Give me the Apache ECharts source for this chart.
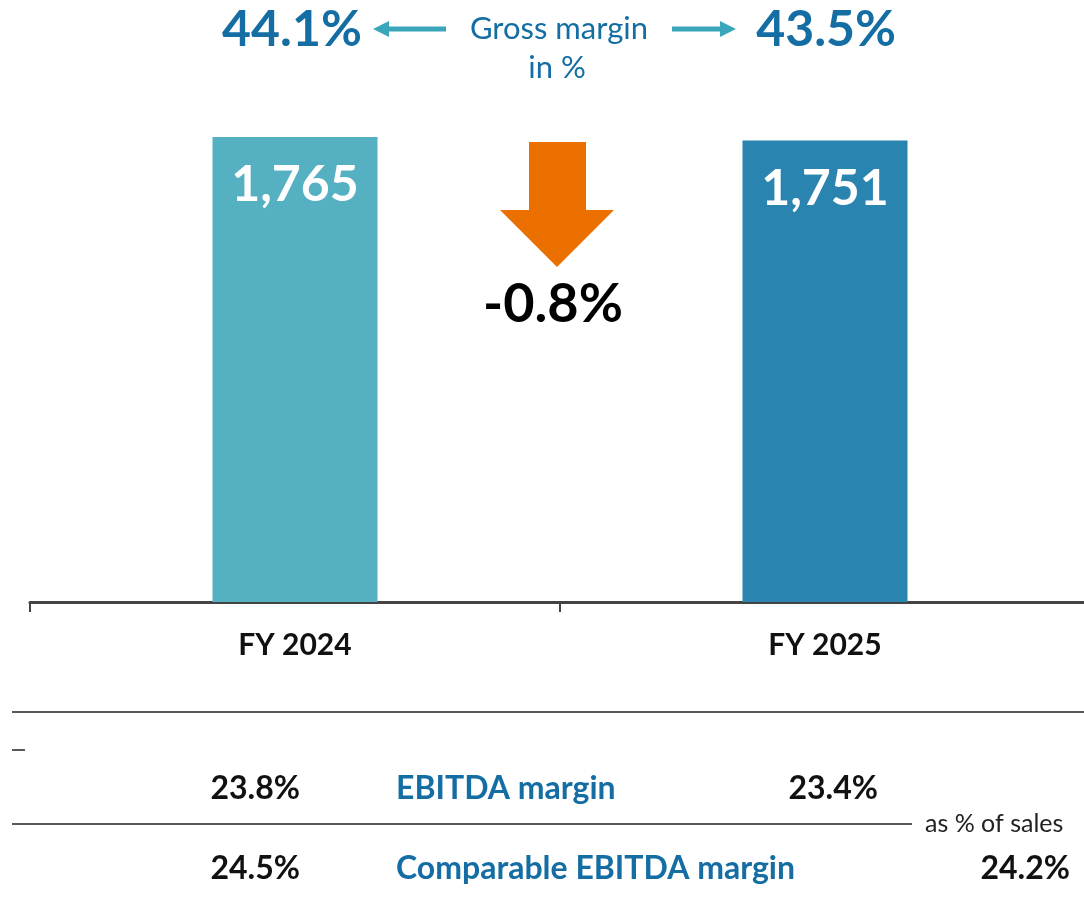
<!DOCTYPE html>
<html>
<head>
<meta charset="utf-8">
<script src="https://cdn.jsdelivr.net/npm/echarts@6/dist/echarts.min.js"></script>
<style>
  html, body { margin: 0; padding: 0; background: #fff; overflow: hidden; }
  #chart { width: 1090px; height: 904px; }
</style>
</head>
<body>
<div id="chart"></div>
<script>
const years = ['FY 2024', 'FY 2025']
const sales = [1765, 1751]
const barColors = ['#55b0c2', '#2a84b0']
const grossMargin = ['44.1%', '43.5%']
const change = '-0.8%'
const ebitdaMargin = ['23.8%', '23.4%']
const compEbitdaMargin = ['24.5%', '24.2%']

const font = 'Lato'
const blue = '#146ea3'
const teal = '#3aa6b9'

const chart = echarts.init(document.getElementById('chart'))

function txt(x, y, text, size, color, weight, align) {
  return {
    type: 'text', x: x, y: y,
    style: {
      text: text, fill: color, font: (weight || 'normal') + ' ' + size + 'px ' + font,
      align: align || 'left', verticalAlign: 'middle'
    }
  }
}

function hline(x1, x2, y) {
  return {
    type: 'line',
    shape: { x1: x1, y1: y, x2: x2, y2: y },
    style: { stroke: '#222', lineWidth: 1.5 }
  }
}

const option = {
  animation: false,
  grid: { left: 30, right: 0, top: 75, bottom: 302 },
  xAxis: {
    type: 'category',
    data: years,
    axisLine: { lineStyle: { color: '#444', width: 3 } },
    axisTick: { show: true, length: 10, lineStyle: { color: '#444', width: 2 } },
    axisLabel: { color: '#111', fontFamily: font, fontWeight: 'bold', fontSize: 30, margin: 28 }
  },
  yAxis: {
    type: 'value', min: 0, max: 2000, show: false, splitLine: { show: false }
  },
  series: [{
    type: 'bar',
    barWidth: 165,
    data: sales.map((v, i) => ({ value: v, itemStyle: { color: barColors[i] } })),
    label: {
      show: true, position: 'insideTop', distance: 23,
      color: '#fff', fontFamily: font, fontWeight: 'bold', fontSize: 50,
      formatter: p => p.value.toLocaleString('en-US')
    }
  }],
  graphic: [
    // gross margin header
    txt(222, 30, grossMargin[0], 50, blue, 'bold'),
    txt(896, 30, grossMargin[1], 50, blue, 'bold', 'right'),
    txt(559, 29, 'Gross margin', 31, blue, 'normal', 'center'),
    txt(557, 68, 'in %', 31, blue, 'normal', 'center'),
    { type: 'line', shape: { x1: 386, y1: 29, x2: 446, y2: 29 }, style: { stroke: teal, lineWidth: 5 } },
    { type: 'polygon', shape: { points: [[373, 29], [389, 21], [389, 37]] }, style: { fill: teal } },
    { type: 'line', shape: { x1: 672, y1: 29, x2: 724, y2: 29 }, style: { stroke: teal, lineWidth: 5 } },
    { type: 'polygon', shape: { points: [[736, 29], [720, 21], [720, 37]] }, style: { fill: teal } },
    // change arrow
    {
      type: 'polygon',
      shape: { points: [[529, 142], [586, 142], [586, 210], [614, 210], [557, 267], [500, 210], [529, 210]] },
      style: { fill: '#ec7000' }
    },
    txt(553, 305, change, 54, '#000', 'bold', 'center'),
    // margin table
    hline(12, 1084, 712),
    hline(12, 25, 750),
    txt(300, 789, ebitdaMargin[0], 32, '#111', 'bold', 'right'),
    txt(396, 789, 'EBITDA margin', 32, blue, 'bold'),
    txt(878, 789, ebitdaMargin[1], 32, '#111', 'bold', 'right'),
    hline(12, 912, 824),
    txt(925, 824, 'as % of sales', 25, '#222'),
    txt(300, 869, compEbitdaMargin[0], 32, '#111', 'bold', 'right'),
    txt(396, 869, 'Comparable EBITDA margin', 32, blue, 'bold'),
    txt(1070, 869, compEbitdaMargin[1], 32, '#111', 'bold', 'right')
  ]
}

chart.setOption(option)
</script>
</body>
</html>
